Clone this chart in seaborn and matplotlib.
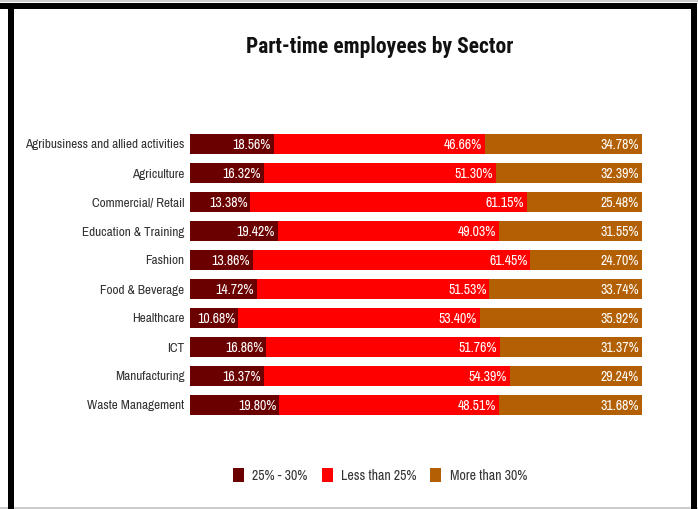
import matplotlib
matplotlib.use("Agg")
import matplotlib.pyplot as plt
from matplotlib.patches import Patch, Rectangle
import numpy as np
import pandas as pd
import seaborn as sns

sectors = [
    "Agribusiness and allied activities", "Agriculture", "Commercial/ Retail",
    "Education & Training", "Fashion", "Food & Beverage", "Healthcare", "ICT",
    "Manufacturing", "Waste Management",
]
band_25_30 = [18.56, 16.32, 13.38, 19.42, 13.86, 14.72, 10.68, 16.86, 16.37, 19.80]
band_lt_25 = [46.66, 51.30, 61.15, 49.03, 61.45, 51.53, 53.40, 51.76, 54.39, 48.51]
band_gt_30 = [34.78, 32.39, 25.48, 31.55, 24.70, 33.74, 35.92, 31.37, 29.24, 31.68]
series_names = ["25% - 30%", "Less than 25%", "More than 30%"]
colors = ["#6b0000", "#ff0000", "#b35f04"]

sns.set_theme(style="white")
fam = ["Archivo Narrow", "Liberation Sans", "DejaVu Sans"]
plt.rcParams["font.family"] = fam

df = pd.DataFrame({"sector": sectors, "a": band_25_30, "b": band_lt_25, "c": band_gt_30})
df["cum_a"] = df["a"]
df["cum_b"] = df["a"] + df["b"]
df["cum_c"] = df["a"] + df["b"] + df["c"]

fig = plt.figure(figsize=(6.98, 5.10), dpi=100)
ax = fig.add_axes([190 / 698, 1 - 420.5 / 510, 452 / 698, 290 / 510])

# Stacked bars drawn as overlapping cumulative totals, widest first
for col, color in zip(["cum_c", "cum_b", "cum_a"], colors[::-1]):
    sns.barplot(data=df, y="sector", x=col, color=color, orient="h", width=0.66,
                saturation=1, edgecolor="none", ax=ax)

ax.set_xlim(0, df["cum_c"].max())
ax.set_xlabel("")
ax.set_ylabel("")
ax.set_xticks([])
for s in ax.spines.values():
    s.set_visible(False)
ax.tick_params(axis="y", length=0, pad=4, labelsize=9.5, labelcolor="#333333")
for t in ax.get_yticklabels():
    t.set_verticalalignment("center")

# Value labels at the right end of each segment
for i, row in df.iterrows():
    for val, end in [(row["a"], row["cum_a"]), (row["b"], row["cum_b"]), (row["c"], row["cum_c"])]:
        ax.annotate(f"{val:.2f}%", xy=(end, i), xytext=(-2, 0), textcoords="offset points",
                    ha="right", va="center", color="white", fontsize=10)

fig.text(380 / 698, 1 - 47 / 510, "Part-time employees by Sector", ha="center", va="center",
         fontsize=15.5, fontweight="bold", color="#111111",
         family=["Roboto Condensed", "Liberation Sans", "DejaVu Sans"])

handles = [Patch(facecolor=c, edgecolor="none") for c in colors]
fig.legend(handles, series_names, loc="center", bbox_to_anchor=(380 / 698, 1 - 476 / 510),
           ncol=3, frameon=False, fontsize=10, handlelength=0.8, handleheight=1.2,
           handletextpad=0.6, columnspacing=1.0, labelcolor="#333333")

# Page frame
px = lambda x, y, w, h, c: fig.add_artist(Rectangle((x / 698, 1 - (y + h) / 510), w / 698, h / 510,
                                                    transform=fig.transFigure, facecolor=c,
                                                    edgecolor="none", zorder=10))
px(0, 1, 698, 2, "#cccccc")
px(0, 508, 698, 2, "#cccccc")
px(0, 4, 697, 6, "black")
px(8, 4, 6, 506, "black")
px(691, 4, 6, 506, "black")

fig.savefig("out.png", dpi=100)
